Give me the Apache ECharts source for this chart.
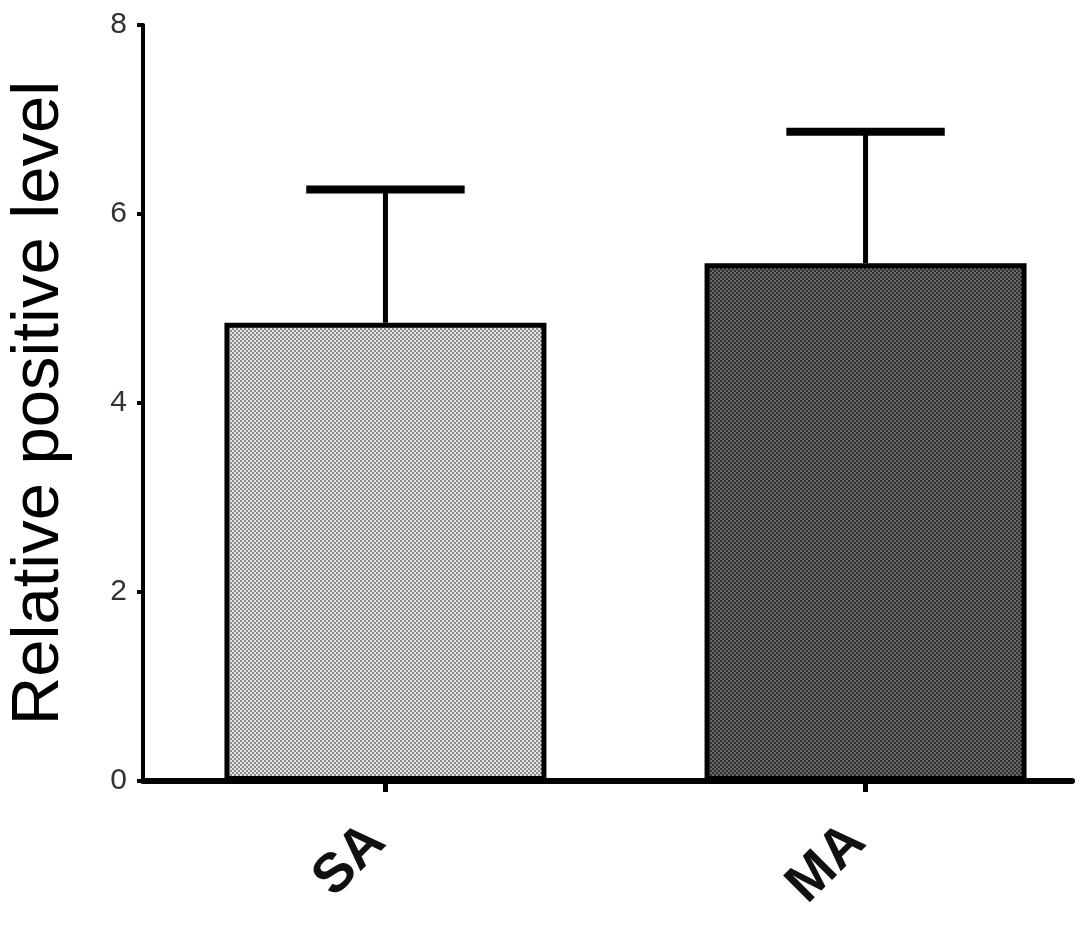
<!DOCTYPE html>
<html>
<head>
<meta charset="utf-8">
<script src="https://cdn.jsdelivr.net/npm/echarts@6/dist/echarts.min.js"></script>
<style>html,body{margin:0;padding:0;background:#fff}#c{width:1087px;height:927px}</style>
</head>
<body>
<div id="c"></div>
<script>
const categories = ['SA', 'MA'];
const means = [4.85, 5.48];
const upperErrors = [6.26, 6.87];
const yTicks = [0, 2, 4, 6, 8];

function checker(c1, c2) {
  const cv = document.createElement('canvas');
  cv.width = 4; cv.height = 4;
  const ctx = cv.getContext('2d');
  ctx.fillStyle = c1; ctx.fillRect(0, 0, 4, 4);
  ctx.fillStyle = c2; ctx.fillRect(0, 0, 2, 2); ctx.fillRect(2, 2, 2, 2);
  return { image: cv, repeat: 'repeat' };
}
const fills = [checker('#e4e4e4', '#8c8c8c'), checker('#6a6a6a', '#2e2e2e')];
const idx = categories.map((c, i) => i);

const chart = echarts.init(document.getElementById('c'), null, { renderer: 'canvas' });
chart.setOption({
  animation: false,
  grid: { left: 143, right: 15, top: 25, bottom: 146, outerBoundsMode: 'none', containLabel: false },
  xAxis: {
    type: 'value',
    min: -0.505, max: 1.43,
    splitLine: { show: false },
    axisLine: { show: true, onZero: false, lineStyle: { color: '#000', width: 6 } },
    axisTick: { show: true, customValues: idx, length: 11, lineStyle: { color: '#000', width: 5 } },
    axisLabel: {
      customValues: idx,
      formatter: v => categories[Math.round(v)] || '',
      rotate: 45, margin: 44,
      padding: [0, 12, 0, 0],
      fontFamily: 'Liberation Sans, Arial, sans-serif',
      fontSize: 55, fontWeight: 'bold', color: '#111'
    }
  },
  yAxis: {
    type: 'value', min: 0, max: 8, interval: 2,
    name: 'Relative positive level',
    nameLocation: 'middle', nameGap: 70,
    nameTextStyle: { fontFamily: 'Liberation Sans, Arial, sans-serif', fontSize: 67, color: '#000' },
    splitLine: { show: false },
    axisLine: { show: true, onZero: false, lineStyle: { color: '#000', width: 4 } },
    axisTick: { show: true, length: 6, lineStyle: { color: '#000', width: 4 } },
    axisLabel: {
      formatter: v => yTicks.includes(v) ? String(v) : '',
      margin: 16, fontFamily: 'Liberation Sans, Arial, sans-serif', fontSize: 30, color: '#333'
    }
  },
  series: [
    {
      type: 'bar',
      barWidth: 322,
      data: idx.map(i => ({ value: [i, means[i]], itemStyle: { color: fills[i] } })),
      itemStyle: { borderColor: '#000', borderWidth: 5 },
      z: 2
    },
    {
      type: 'custom',
      z: 3,
      data: idx.map(i => [i, means[i], upperErrors[i]]),
      renderItem: function (params, api) {
        const x = api.value(0);
        const base = api.coord([x, api.value(1)]);
        const top = api.coord([x, api.value(2)]);
        const half = api.size([1, 0])[0] * 0.165;
        return {
          type: 'group',
          children: [
            { type: 'line', shape: { x1: top[0], y1: base[1], x2: top[0], y2: top[1] }, style: { stroke: '#000', lineWidth: 5 } },
            { type: 'line', shape: { x1: top[0] - half, y1: top[1], x2: top[0] + half, y2: top[1] }, style: { stroke: '#000', lineWidth: 8 } }
          ]
        };
      }
    }
  ]
});
</script>
</body>
</html>
